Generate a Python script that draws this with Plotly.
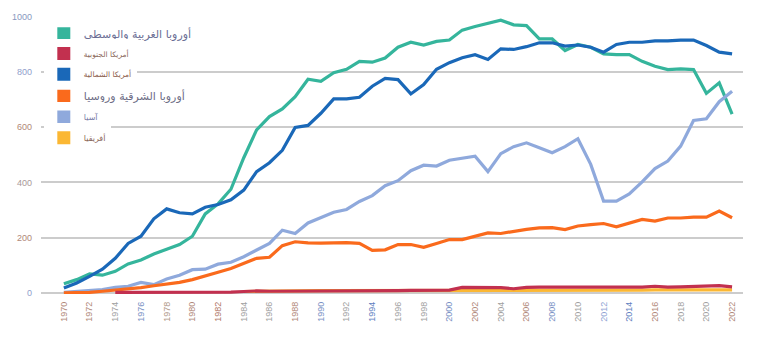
import plotly.graph_objects as go

years = list(range(1970, 2023))

west_central_europe = [33, 48, 69, 64, 78, 105, 119, 141, 158, 175,
                       205, 286, 322, 375, 489, 590, 638, 666, 710, 773,
                       766, 797, 809, 838, 835, 850, 889, 907, 897, 910,
                       915, 951, 964, 975, 987, 970, 967, 919, 919, 877,
                       899, 889, 865, 862, 862, 838, 820, 808, 811, 808,
                       722, 760, 647]

south_america = [None, None, None, None, 2, 2, 2, 2, 2, 2,
                 2, 2, 2, 3, 5, 7, 6, 6, 6, 6,
                 7, 7, 7, 7, 7, 8, 8, 9, 9, 10,
                 10, 20, 20, 21, 19, 15, 20, 21, 21, 21,
                 21, 21, 21, 20, 20, 21, 24, 21, 22, 24,
                 25, 26, 22]

north_america = [18, 36, 60, 86, 125, 179, 205, 268, 304, 290,
                 286, 310, 320, 337, 372, 439, 471, 516, 599, 606,
                 650, 702, 702, 708, 748, 776, 772, 720, 754, 809,
                 833, 851, 862, 845, 883, 881, 891, 905, 905, 893,
                 897, 889, 871, 899, 907, 907, 912, 912, 915, 915,
                 895, 871, 865]

east_europe_russia = [0, 0, 2, 6, 10, 13, 19, 26, 32, 38,
                      48, 60, 75, 88, 107, 125, 129, 171, 185, 181,
                      180, 180, 182, 179, 154, 156, 175, 175, 165, 179,
                      193, 193, 205, 217, 215, 223, 230, 235, 236, 229,
                      242, 247, 251, 239, 253, 266, 260, 271, 271, 274,
                      274, 296, 272]

asia = [2, 6, 8, 12, 20, 24, 38, 30, 50, 64,
        84, 86, 104, 111, 131, 155, 179, 227, 215, 253,
        274, 292, 302, 331, 352, 388, 406, 442, 462, 459,
        480, 487, 495, 439, 504, 529, 543, 525, 507, 529,
        558, 465, 332, 332, 358, 402, 450, 477, 531, 624,
        630, 692, 730]

africa = [None] * 14 + [5, 6, 6, 7, 8, 8,
                        8, 8, 8, 8, 8, 9, 9, 9, 9, 9,
                        9, 10, 10, 10, 10, 9, 9, 10, 10, 10,
                        10, 10, 10, 10, 10, 10, 11, 11, 10, 11,
                        11, 11, 11]

series_names = ["أوروبا الغربية والوسطى", "أمريكا الجنوبية", "أمريكا الشمالية",
                "أوروبا الشرقية وروسيا", "آسيا", "أفريقيا"]
series_values = [west_central_europe, south_america, north_america,
                 east_europe_russia, asia, africa]
series_colors = ["#35b59c", "#c2304f", "#1a68b8", "#fa6a1c", "#8fa9dc", "#fbb733"]
legend_text_colors = ["#6a6e94", "#8a6658", "#8a5a48", "#6e6e86", "#7a7ca6", "#8a6658"]
legend_text_sizes = [11, 7.5, 7.5, 11, 8, 8]
legend_rows_px = [31, 51, 72, 94, 115, 136]

x_tick_vals = list(range(1970, 2023, 2))
x_tick_colors = ["#b08878", "#b08878", "#a0a0a0", "#7890c4", "#b09888", "#b08878",
                 "#b07868", "#a0a0a0", "#a0a0a0", "#b08878", "#7890c4", "#a0a0a0",
                 "#6080c0", "#a0a0a0", "#a0a0a0", "#7890c4", "#b08878", "#a0a0a0",
                 "#b08878", "#7890c4", "#a0a0a0", "#90a4d4", "#6080c0", "#b08878",
                 "#a0a0a0", "#a0a0a0", "#b08878"]
y_tick_vals = [0, 200, 400, 600, 800, 1000]
y_tick_colors = ["#90a0cc", "#b08878", "#a89898", "#b08878", "#90a0cc", "#8898c0"]

MT, PH = 13, 281

fig = go.Figure()

# draw order: Africa under South America
draw_order = [0, 2, 4, 3, 5, 1]
for i in draw_order:
    fig.add_trace(go.Scatter(
        x=years, y=series_values[i], mode="lines",
        line=dict(color=series_colors[i], width=3.2),
        showlegend=False, hoverinfo="skip"))

legend_layout = {}
for i, name in enumerate(series_names):
    key = "legend" if i == 0 else f"legend{i + 1}"
    fig.add_trace(go.Scatter(
        x=[None], y=[None], mode="markers",
        marker=dict(symbol="square", size=13, color=series_colors[i]),
        name=name, legend=key, showlegend=True))
    legend_layout[key] = dict(
        x=0.004, y=1 - (legend_rows_px[i] - MT) / PH,
        xanchor="left", yanchor="middle",
        bgcolor="white", borderwidth=0, itemwidth=30,
        font=dict(size=legend_text_sizes[i], color=legend_text_colors[i],
                  family="DejaVu Sans"))

fig.update_layout(
    width=768, height=338,
    margin=dict(l=38, r=25, t=MT, b=338 - MT - PH),
    paper_bgcolor="white", plot_bgcolor="white",
    font=dict(family="Liberation Sans", size=9, color="#9a9a9a"),
    xaxis=dict(range=[1968.22, 2022.85], showgrid=False, zeroline=False,
               showline=False, tickmode="array", tickvals=x_tick_vals,
               ticktext=[f'<span style="color:{c}">{v}</span>' for v, c in zip(x_tick_vals, x_tick_colors)],
               tickangle=-90, tickfont=dict(size=9, family="Liberation Sans"),
               ticklabelstandoff=5),
    yaxis=dict(range=[-4, 1002], showgrid=True, gridcolor="#cccccc", gridwidth=2,
               zeroline=False, showline=False, tickmode="array", tickvals=y_tick_vals,
               ticktext=[f'<span style="color:{c}">{v}</span>' for v, c in zip(y_tick_vals, y_tick_colors)],
               tickfont=dict(size=9, family="Liberation Sans"),
               ticklabelstandoff=8),
    **legend_layout,
)

fig.write_html("out.html")
